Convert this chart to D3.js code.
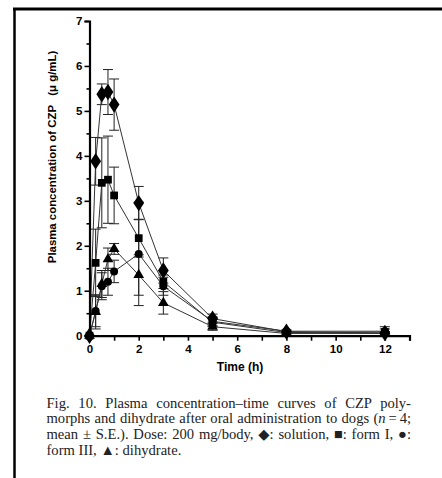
<!DOCTYPE html>
<html><head><meta charset="utf-8">
<script src="https://cdn.jsdelivr.net/npm/d3@7"></script>
<style>html,body{margin:0;padding:0;background:#fff;}</style>
</head><body>
<script>
const times = [0, 0.25, 0.5, 0.75, 1, 2, 3, 5, 8, 12];
const solution = [0, 3.88, 5.37, 5.42, 5.14, 2.95, 1.45, 0.38, 0.09, 0.06];
const solutionErr = [0, 0.53, 0.23, 0.5, 0.57, 0.37, 0.28, 0.1, 0.03, 0.03];
const formI = [0, 1.62, 3.4, 3.47, 3.12, 2.17, 1.2, 0.3, 0.07, 0.08];
const formIErr = [0, 0.75, 1.0, 0.97, 0.63, 0.42, 0.15, 0.1, 0.03, 0.12];
const formIII = [0, 0.55, 1.1, 1.2, 1.43, 1.82, 1.1, 0.32, 0.1, 0.1];
const formIIIErr = [0, 0.35, 0.3, 0.3, 0.25, 1.15, 0.2, 0.1, 0.03, 0.05];
const dihydrate = [0, 0.53, 1.15, 1.7, 1.93, 1.35, 0.73, 0.2, 0.05, 0.05];
const dihydrateErr = [0, 0.38, 0.3, 0.25, 0.12, 0.45, 0.25, 0.08, 0.02, 0.03];
const xTicks = [0, 2, 4, 6, 8, 10, 12];
const yTicks = [0, 1, 2, 3, 4, 5, 6, 7];
const captionLines = [
  ["Fig. 10. Plasma concentration\u2013time curves of CZP poly-"],
  ["morphs and dihydrate after oral administration to dogs (", {i: "n"}, "\u2009=\u20094;"],
  ["mean \u00b1 S.E.). Dose: 200 mg/body, \u25c6: solution, \u25a0: form I, \u25cf:"],
  ["form III, \u25b2: dihydrate."]
];

const W = 442, H = 478;
const svg = d3.select("body").append("svg").attr("width", W).attr("height", H)
  .style("font-family", "Arial, 'Liberation Sans', sans-serif");
svg.append("rect").attr("width", W).attr("height", H).attr("fill", "#fff");

// page border
svg.append("line").attr("x1", 13).attr("x2", W).attr("y1", 9).attr("y2", 9)
  .attr("stroke", "#000").attr("stroke-width", 3);
svg.append("line").attr("x1", 14.5).attr("x2", 14.5).attr("y1", 8).attr("y2", H)
  .attr("stroke", "#000").attr("stroke-width", 2.5);

const x = d3.scaleLinear().domain([0, 13]).range([89.5, 409.5]);
const y = d3.scaleLinear().domain([0, 7]).range([335.7, 21]);

const series = [
  {vals: solution, err: solutionErr, sym: d3.symbolDiamond, size: 70, sx: 1.2, sy: 1.05},
  {vals: formI, err: formIErr, sym: d3.symbolSquare, size: 60, sx: 1, sy: 1},
  {vals: formIII, err: formIIIErr, sym: d3.symbolCircle, size: 50, sx: 1, sy: 1},
  {vals: dihydrate, err: dihydrateErr, sym: d3.symbolTriangle, size: 50, sx: 1, sy: 1}
];

const plot = svg.append("g");
series.forEach(s => {
  const g = plot.append("g").attr("stroke", "#222").attr("stroke-width", 1).attr("fill", "none");
  times.forEach((t, i) => {
    if (s.err[i] <= 0) return;
    const cx = x(t), top = y(s.vals[i] + s.err[i]), bot = y(Math.max(0, s.vals[i] - s.err[i]));
    g.append("line").attr("x1", cx).attr("x2", cx).attr("y1", top).attr("y2", bot);
    g.append("line").attr("x1", cx - 5).attr("x2", cx + 5).attr("y1", top).attr("y2", top);
    g.append("line").attr("x1", cx - 5).attr("x2", cx + 5).attr("y1", bot).attr("y2", bot);
  });
});
const line = d3.line().x((d, i) => x(times[i])).y(d => y(d));
series.forEach(s => {
  plot.append("path").attr("d", line(s.vals)).attr("fill", "none")
    .attr("stroke", "#333").attr("stroke-width", 1);
});
series.forEach(s => {
  const sym = d3.symbol().type(s.sym).size(s.size);
  plot.append("g").selectAll("path").data(s.vals).join("path")
    .attr("d", sym)
    .attr("transform", (d, i) => `translate(${x(times[i])},${y(d)}) scale(${s.sx},${s.sy})`)
    .attr("fill", "#000");
});

const xAxis = d3.axisBottom(x).tickValues(d3.range(0, 14, 1)).tickSize(5)
  .tickFormat(d => xTicks.includes(d) ? d : "");
const gx = svg.append("g").attr("transform", `translate(0,${y(0)})`).call(xAxis);
gx.select(".domain").attr("stroke-width", 2.2);
gx.selectAll(".tick line").attr("stroke-width", 1.6);
gx.selectAll(".tick text").attr("font-size", 11.5).attr("font-weight", "bold").attr("dy", "0.85em");

const yAxis = d3.axisLeft(y).tickValues(d3.range(0, 7.01, 0.5)).tickSize(5)
  .tickFormat(d => yTicks.includes(d) ? d : "");
const gy = svg.append("g").attr("transform", `translate(${x(0)},0)`).call(yAxis);
gy.select(".domain").attr("stroke-width", 2.2);
gy.selectAll(".tick line").attr("stroke-width", 1.6)
  .attr("x2", d => Number.isInteger(d) ? -5 : -3);
gy.selectAll(".tick text").attr("font-size", 11.5).attr("font-weight", "bold").attr("x", -7);

svg.append("text").attr("x", 240).attr("y", 371).attr("text-anchor", "middle")
  .attr("font-size", 12).attr("font-weight", "bold").text("Time (h)");
svg.append("text").attr("transform", "translate(56,157) rotate(-90)").attr("text-anchor", "middle")
  .attr("font-size", 11.4).attr("font-weight", "bold")
  .text("Plasma concentration of CZP \u00a0\u00a0(\u03bc g/mL)");

// caption
const cap = svg.append("g");
const baselines = [407.7, 423.4, 439.2, 455];
const capW = 364.5;
captionLines.forEach((parts, i) => {
  const t = cap.append("text").attr("x", 46.5).attr("y", baselines[i])
    .attr("font-family", "'Liberation Serif', 'DejaVu Serif', serif")
    .attr("font-size", 14.6).attr("fill", "#222");
  let spaces = 0;
  parts.forEach(p => {
    if (typeof p === "string") { t.append("tspan").text(p); spaces += (p.match(/ /g) || []).length; }
    else t.append("tspan").attr("font-style", "italic").text(p.i);
  });
  if (i < 3) {
    const w = t.node().getComputedTextLength();
    if (spaces > 0 && w < capW) t.attr("word-spacing", ((capW - w) / spaces).toFixed(2));
  }
});
</script>
</body></html>
